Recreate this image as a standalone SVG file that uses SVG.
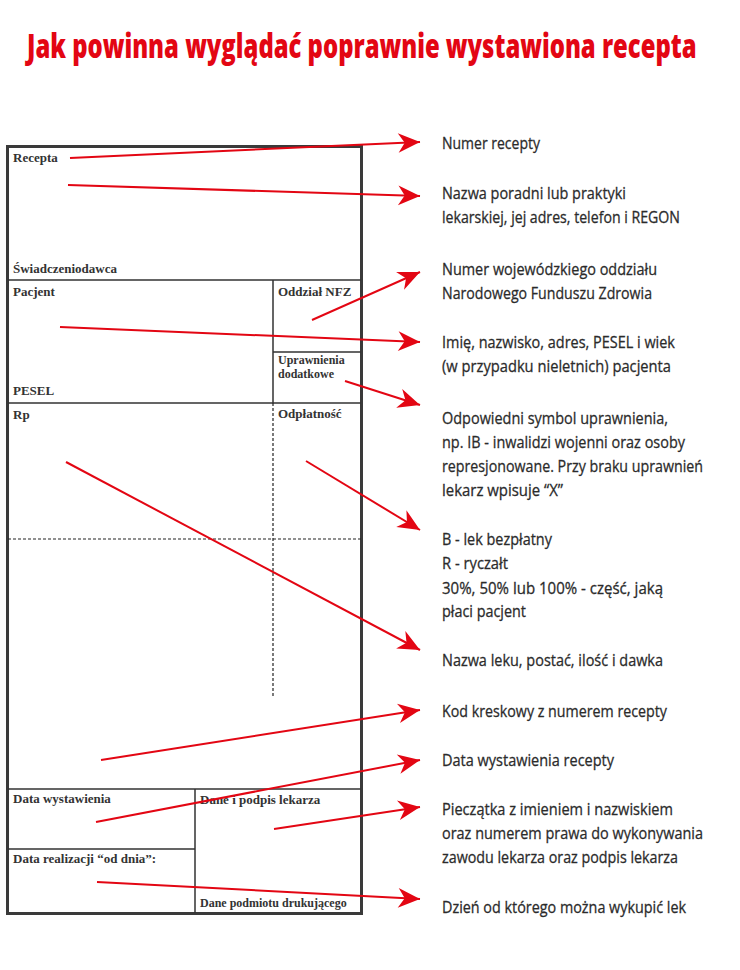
<svg xmlns="http://www.w3.org/2000/svg" width="740" height="970" viewBox="0 0 740 970">
<style>
.title{font-family:"Open Sans","Liberation Sans",sans-serif;font-weight:800;font-size:34px;fill:#e30613}
.lbl{font-family:"Liberation Serif","DejaVu Serif",serif;font-weight:700;font-size:13px;fill:#333}
.sm{font-size:12px}
.desc{font-family:"Open Sans","Liberation Sans",sans-serif;font-size:17px;fill:#2b2b2b;stroke:#2b2b2b;stroke-width:0.3}
.ln{stroke:#333;stroke-width:1.5;fill:none}
.dash{stroke:#222;stroke-width:1.2;stroke-dasharray:3 2;fill:none}
.arr{stroke:#e30613;stroke-width:2;fill:none;marker-end:url(#ah)}
</style>
<defs>
<marker id="ah" markerUnits="userSpaceOnUse" markerWidth="24" markerHeight="22" viewBox="-21 -10 22 20" refX="0" refY="0" orient="auto">
<path d="M0,0 L-20,-9 L-14,0 L-20,9 Z" fill="#e30613"/>
</marker>
</defs>
<rect width="740" height="970" fill="#fff"/>
<g id="title" transform="translate(27,0) scale(0.72,1)">
<text class="title" x="0" y="58" textLength="930" lengthAdjust="spacingAndGlyphs">Jak powinna wyglądać poprawnie wystawiona recepta</text>
</g>

<g id="form">
<rect x="7.5" y="146.5" width="354" height="767" fill="none" stroke="#3a3a3a" stroke-width="3"/>
<path class="ln" d="M8,280 H361 M273,280 V403 M273,352 H361 M8,403 H361 M8,789 H361 M195,789 V913 M8,849 H195"/>
<path class="dash" d="M273,403 V697 M8,539 H361"/>
</g>
<g id="form-labels">
<text class="lbl" x="13" y="162">Recepta</text>
<text class="lbl" x="13" y="273">Świadczeniodawca</text>
<text class="lbl" x="13" y="296">Pacjent</text>
<text class="lbl" x="278" y="296">Oddział NFZ</text>
<text class="lbl" x="13" y="395">PESEL</text>
<text class="lbl sm" x="278" y="364">Uprawnienia</text>
<text class="lbl sm" x="278" y="378">dodatkowe</text>
<text class="lbl" x="13" y="419">Rp</text>
<text class="lbl" x="278" y="418">Odpłatność</text>
<text class="lbl" x="13" y="803">Data wystawienia</text>
<text class="lbl" x="200" y="804">Dane i podpis lekarza</text>
<text class="lbl" x="13" y="863">Data realizacji “od dnia”:</text>
<text class="lbl sm" x="200" y="907">Dane podmiotu drukującego</text>
</g>

<g id="connectors">
<line class="arr" x1="70" y1="158" x2="420" y2="142"/>
<line class="arr" x1="68" y1="185" x2="420" y2="196"/>
<line class="arr" x1="312" y1="320" x2="420" y2="272"/>
<line class="arr" x1="60" y1="327" x2="420" y2="342"/>
<line class="arr" x1="345" y1="381" x2="420" y2="405"/>
<line class="arr" x1="306" y1="461" x2="420" y2="530"/>
<line class="arr" x1="66" y1="462" x2="420" y2="650"/>
<line class="arr" x1="101" y1="760" x2="420" y2="710"/>
<line class="arr" x1="96" y1="822" x2="420" y2="760"/>
<line class="arr" x1="274" y1="829" x2="420" y2="807"/>
<line class="arr" x1="97" y1="882" x2="420" y2="899"/>
</g>

<g id="n1" transform="translate(442,0) scale(0.82,1)"><text class="desc" x="0" y="149" textLength="119.5" lengthAdjust="spacingAndGlyphs">Numer recepty</text></g>
<g id="n2" transform="translate(442,0) scale(0.82,1)">
<text class="desc" x="0" y="199" textLength="224.4" lengthAdjust="spacingAndGlyphs">Nazwa poradni lub praktyki</text>
<text class="desc" x="0" y="223" textLength="290.2" lengthAdjust="spacingAndGlyphs">lekarskiej, jej adres, telefon i REGON</text>
</g>
<g id="n3" transform="translate(442,0) scale(0.82,1)">
<text class="desc" x="0" y="275" textLength="262.2" lengthAdjust="spacingAndGlyphs">Numer wojewódzkiego oddziału</text>
<text class="desc" x="0" y="299" textLength="256.1" lengthAdjust="spacingAndGlyphs">Narodowego Funduszu Zdrowia</text>
</g>
<g id="n4" transform="translate(442,0) scale(0.82,1)">
<text class="desc" x="0" y="348" textLength="284.1" lengthAdjust="spacingAndGlyphs">Imię, nazwisko, adres, PESEL i wiek</text>
<text class="desc" x="0" y="372" textLength="279.3" lengthAdjust="spacingAndGlyphs">(w przypadku nieletnich) pacjenta</text>
</g>
<g id="n5" transform="translate(442,0) scale(0.82,1)">
<text class="desc" x="0" y="424" textLength="275.6" lengthAdjust="spacingAndGlyphs">Odpowiedni symbol uprawnienia,</text>
<text class="desc" x="0" y="448" textLength="296.3" lengthAdjust="spacingAndGlyphs">np. IB - inwalidzi wojenni oraz osoby</text>
<text class="desc" x="0" y="472" textLength="318.3" lengthAdjust="spacingAndGlyphs">represjonowane. Przy braku uprawnień</text>
<text class="desc" x="0" y="496" textLength="147.6" lengthAdjust="spacingAndGlyphs">lekarz wpisuje “X”</text>
</g>
<g id="n6" transform="translate(442,0) scale(0.82,1)">
<text class="desc" x="0" y="545" textLength="134.1" lengthAdjust="spacingAndGlyphs">B - lek bezpłatny</text>
<text class="desc" x="0" y="569" textLength="80.5" lengthAdjust="spacingAndGlyphs">R - ryczałt</text>
<text class="desc" x="0" y="594" textLength="269.5" lengthAdjust="spacingAndGlyphs">30%, 50% lub 100% - część, jaką</text>
<text class="desc" x="0" y="617" textLength="102.4" lengthAdjust="spacingAndGlyphs">płaci pacjent</text>
</g>
<g id="n7" transform="translate(442,0) scale(0.82,1)"><text class="desc" x="0" y="666" textLength="269.5" lengthAdjust="spacingAndGlyphs">Nazwa leku, postać, ilość i dawka</text></g>
<g id="n8" transform="translate(442,0) scale(0.82,1)"><text class="desc" x="0" y="717" textLength="274.4" lengthAdjust="spacingAndGlyphs">Kod kreskowy z numerem recepty</text></g>
<g id="n9" transform="translate(442,0) scale(0.82,1)"><text class="desc" x="0" y="766" textLength="209.8" lengthAdjust="spacingAndGlyphs">Data wystawienia recepty</text></g>
<g id="n10" transform="translate(442,0) scale(0.82,1)">
<text class="desc" x="0" y="815" textLength="281.7" lengthAdjust="spacingAndGlyphs">Pieczątka z imieniem i nazwiskiem</text>
<text class="desc" x="0" y="839" textLength="318.3" lengthAdjust="spacingAndGlyphs">oraz numerem prawa do wykonywania</text>
<text class="desc" x="0" y="863" textLength="287.8" lengthAdjust="spacingAndGlyphs">zawodu lekarza oraz podpis lekarza</text>
</g>
<g id="n11" transform="translate(442,0) scale(0.82,1)"><text class="desc" x="0" y="913" textLength="297.6" lengthAdjust="spacingAndGlyphs">Dzień od którego można wykupić lek</text></g>
</svg>
